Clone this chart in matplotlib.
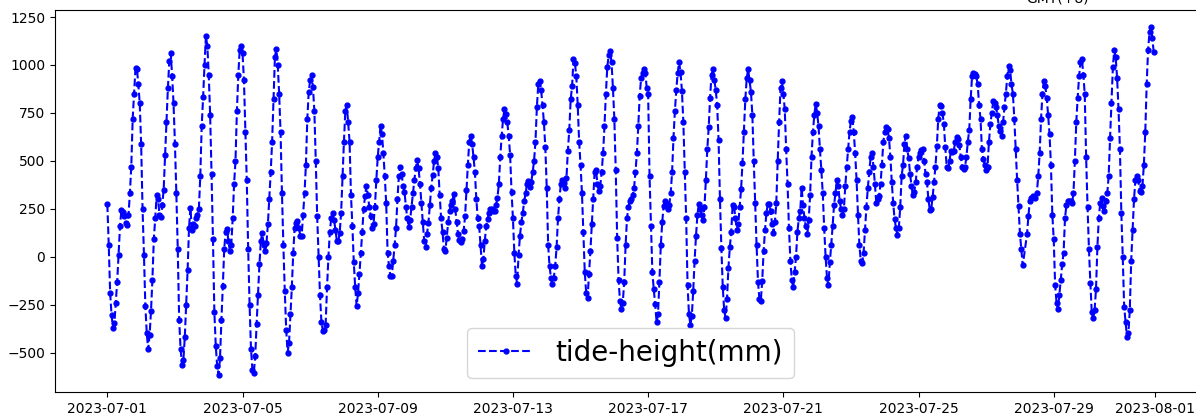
import numpy as np
import pandas as pd
import matplotlib
matplotlib.use("Agg")
import matplotlib.pyplot as plt
import matplotlib.dates as mdates

nan = np.nan

## hourly tide height (mm), one list per day of July 2023
d01 = [273, 60, -190, -305, -370, -345, -240, -130, 10, 160, 245, 235, 210, 175, 165, 215, 330, 470, 720, 850, 985, 980, 900, 800]
d02 = [590, 250, 10, -258, -400, -484, -410, -284, -120, 90, 200, 320, 300, 220, 205, 270, 350, 530, 700, 880, 1020, 1060, 944, 800]
d03 = [590, 330, 40, -330, -480, -563, -540, -420, -250, -70, 150, 256, 140, 170, 160, 200, 220, 250, 420, 680, 831, 1000, 1150, 1100]
d04 = [950, 740, 430, 90, -290, -467, -570, -615, -530, -330, -153, 40, 130, 143, 80, 30, 60, 200, 380, 500, 760, 950, 1080, 1100]
d05 = [1060, 920, 650, 400, 40, -250, -480, -590, -606, -520, -350, -200, -40, 80, 125, 60, 30, 70, 170, 300, 440, 600, 820, 1040]
d06 = [1084, 1000, 850, 648, 330, 60, -180, -380, -500, -450, -300, -160, 20, 151, 175, 186, 150, 110, 110, 220, 330, 480, 720, 860]
d07 = [920, 950, 883, 760, 500, 210, 0, -200, -340, -385, -380, -354, -160, 0, 130, 204, 230, 190, 140, 80, 80, 125, 230, 420]
d08 = [600, 760, 790, 700, 600, 320, 160, -30, -160, -258, -190, -90, 20, 130, 250, 317, 370, 320, 260, 213, 150, 170, 260, 400]
d09 = [520, 600, 683, 640, 540, 420, 280, 20, -50, -100, -100, -20, 60, 150, 300, 420, 470, 430, 370, 340, 260, 200, 155, 190]
d10 = [260, 330, 400, 460, 505, 460, 380, 280, 180, 80, 50, 120, 177, 270, 360, 425, 500, 540, 520, 460, 320, 200, 130, 40]
d11 = [30, 100, 180, 240, 270, 291, 326, 250, 180, 120, 85, 75, 90, 134, 210, 350, 480, 600, 630, 590, 520, 440, 300, 200]
d12 = [160, 60, -50, -10, 80, 160, 195, 230, 250, 247, 240, 238, 270, 308, 380, 520, 630, 720, 770, 744, 700, 630, 530, 340]
d13 = [200, 20, -100, -140, 10, 110, 180, 230, 290, 330, 380, 395, 365, 390, 440, 500, 600, 780, 900, 915, 870, 790, 700, 570]
d14 = [360, 60, -50, -110, -145, -110, -49, 50, 200, 299, 380, 400, 386, 360, 410, 552, 660, 820, 890, 1030, 1010, 940, 790, 600]
d15 = [480, 334, 130, -80, -188, -214, -90, 30, 170, 300, 440, 450, 380, 343, 370, 440, 540, 680, 850, 990, 1050, 1075, 1014, 880]
d16 = [720, 450, 100, -120, -230, -275, -240, -130, 60, 200, 260, 291, 300, 320, 360, 440, 540, 680, 840, 930, 960, 979, 960, 880]
d17 = [850, 420, 160, -80, -170, -249, -340, -300, -130, 60, 180, 265, 290, 280, 247, 270, 330, 440, 620, 760, 870, 960, 1014, 961]
d18 = [865, 700, 440, 200, -150, -300, -354, -310, -180, -20, 110, 220, 273, 247, 215, 190, 260, 400, 560, 674, 830, 950, 979, 920]
d19 = [870, 790, 610, 300, 47, -160, -280, -319, -220, -60, 50, 130, 270, 260, 200, 140, 170, 260, 352, 490, 650, 820, 930, 979]
d20 = [920, 860, 740, 500, 280, 60, -130, -220, -230, -127, 30, 140, 230, 273, 273, 240, 170, 125, 180, 280, 500, 700, 880, 915]
d21 = [850, 770, 560, 380, 150, -20, -120, -160, -80, 0, 130, 200, 240, 360, 270, 200, 160, 117, 190, 320, 520, 650, 740, 796]
d22 = [750, 680, 560, 450, 330, 150, 0, -110, -150, -30, 60, 160, 270, 330, 400, 370, 290, 250, 220, 250, 370, 470, 560, 650]
d23 = [710, 726, 650, 540, 400, 220, 60, -20, -31, 21, 140, 260, 360, 440, 520, 540, 470, 380, 280, 300, 317, 380, 480, 600]
d24 = [650, 674, 665, 620, 520, 390, 280, 195, 150, 115, 150, 260, 420, 480, 590, 630, 560, 515, 430, 370, 320, 340, 390, 470]
d25 = [520, 540, 555, 560, 500, 430, 390, 300, 245, 250, 310, 390, 470, 578, 720, 790, 785, 750, 690, 570, 470, 460, 500, 552]
d26 = [545, 550, 600, 625, 615, 580, 520, 470, 456, 470, 520, 600, 660, 820, 940, 960, 955, 940, 900, 790, 720, 560, 510, 480]
d27 = [450, 470, 600, 690, 750, 810, 800, 780, 740, 680, 656, 630, 700, 780, 850, 940, 996, 975, 900, 850, 720, 560, 400, 264]
d28 = [120, 40, -45, nan, nan, 116, 210, 290, 305, 315, 310, 308, 334, 420, 540, 720, 850, 917, 890, 830, 740, 640, 480, 220]
d29 = [90, -150, -240, -275, -200, -120, -40, 21, 200, 270, 290, 290, 290, 282, 330, 500, 700, 830, 940, 1013, 1031, 950, 850, 520]
d30 = [260, 40, -136, -290, -320, -280, -171, 50, 200, 280, 308, 264, 238, 290, 330, 420, 620, 800, 990, 1080, 1040, 930, 770, 560]
d31 = [230, 0, -260, -340, -420, -400, -280, -20, 140, 300, 400, 420, 400, 343, 335, 370, 480, 650, 900, 1080, 1170, 1196, 1140, 1066]

days = [d01, d02, d03, d04, d05, d06, d07, d08, d09, d10, d11, d12, d13, d14, d15, d16,
        d17, d18, d19, d20, d21, d22, d23, d24, d25, d26, d27, d28, d29, d30, d31]

tide = np.concatenate([np.array(d, dtype=float) for d in days])
times = pd.date_range("2023-07-01 00:00", periods=len(tide), freq="h")

# a couple of hours are missing in the record
ok = ~np.isnan(tide)
times = times[ok]
tide = tide[ok]

fig = plt.figure(figsize=(11.96, 4.17), dpi=100)
ax = fig.add_axes([0.046, 0.060, 0.9624, 0.916])

ax.plot(times, tide, "--", color="blue", marker=".", markersize=7, linewidth=1.5,
        label="tide-height(mm)")

ax.xaxis.set_major_locator(mdates.DayLocator(bymonthday=[1, 5, 9, 13, 17, 21, 25, 29]))
ax.xaxis.set_major_formatter(mdates.DateFormatter("%Y-%m-%d"))
ax.tick_params(labelsize=10)
ax.spines["right"].set_visible(False)

ax.legend(loc="lower center", fontsize=20)

# label of the panel above, mostly cut off by the crop
fig.text(1058 / 1196, 1 - 3 / 417, "GMT(+8)", ha="center", va="baseline", fontsize=10)

fig.savefig("out.png", dpi=100)
